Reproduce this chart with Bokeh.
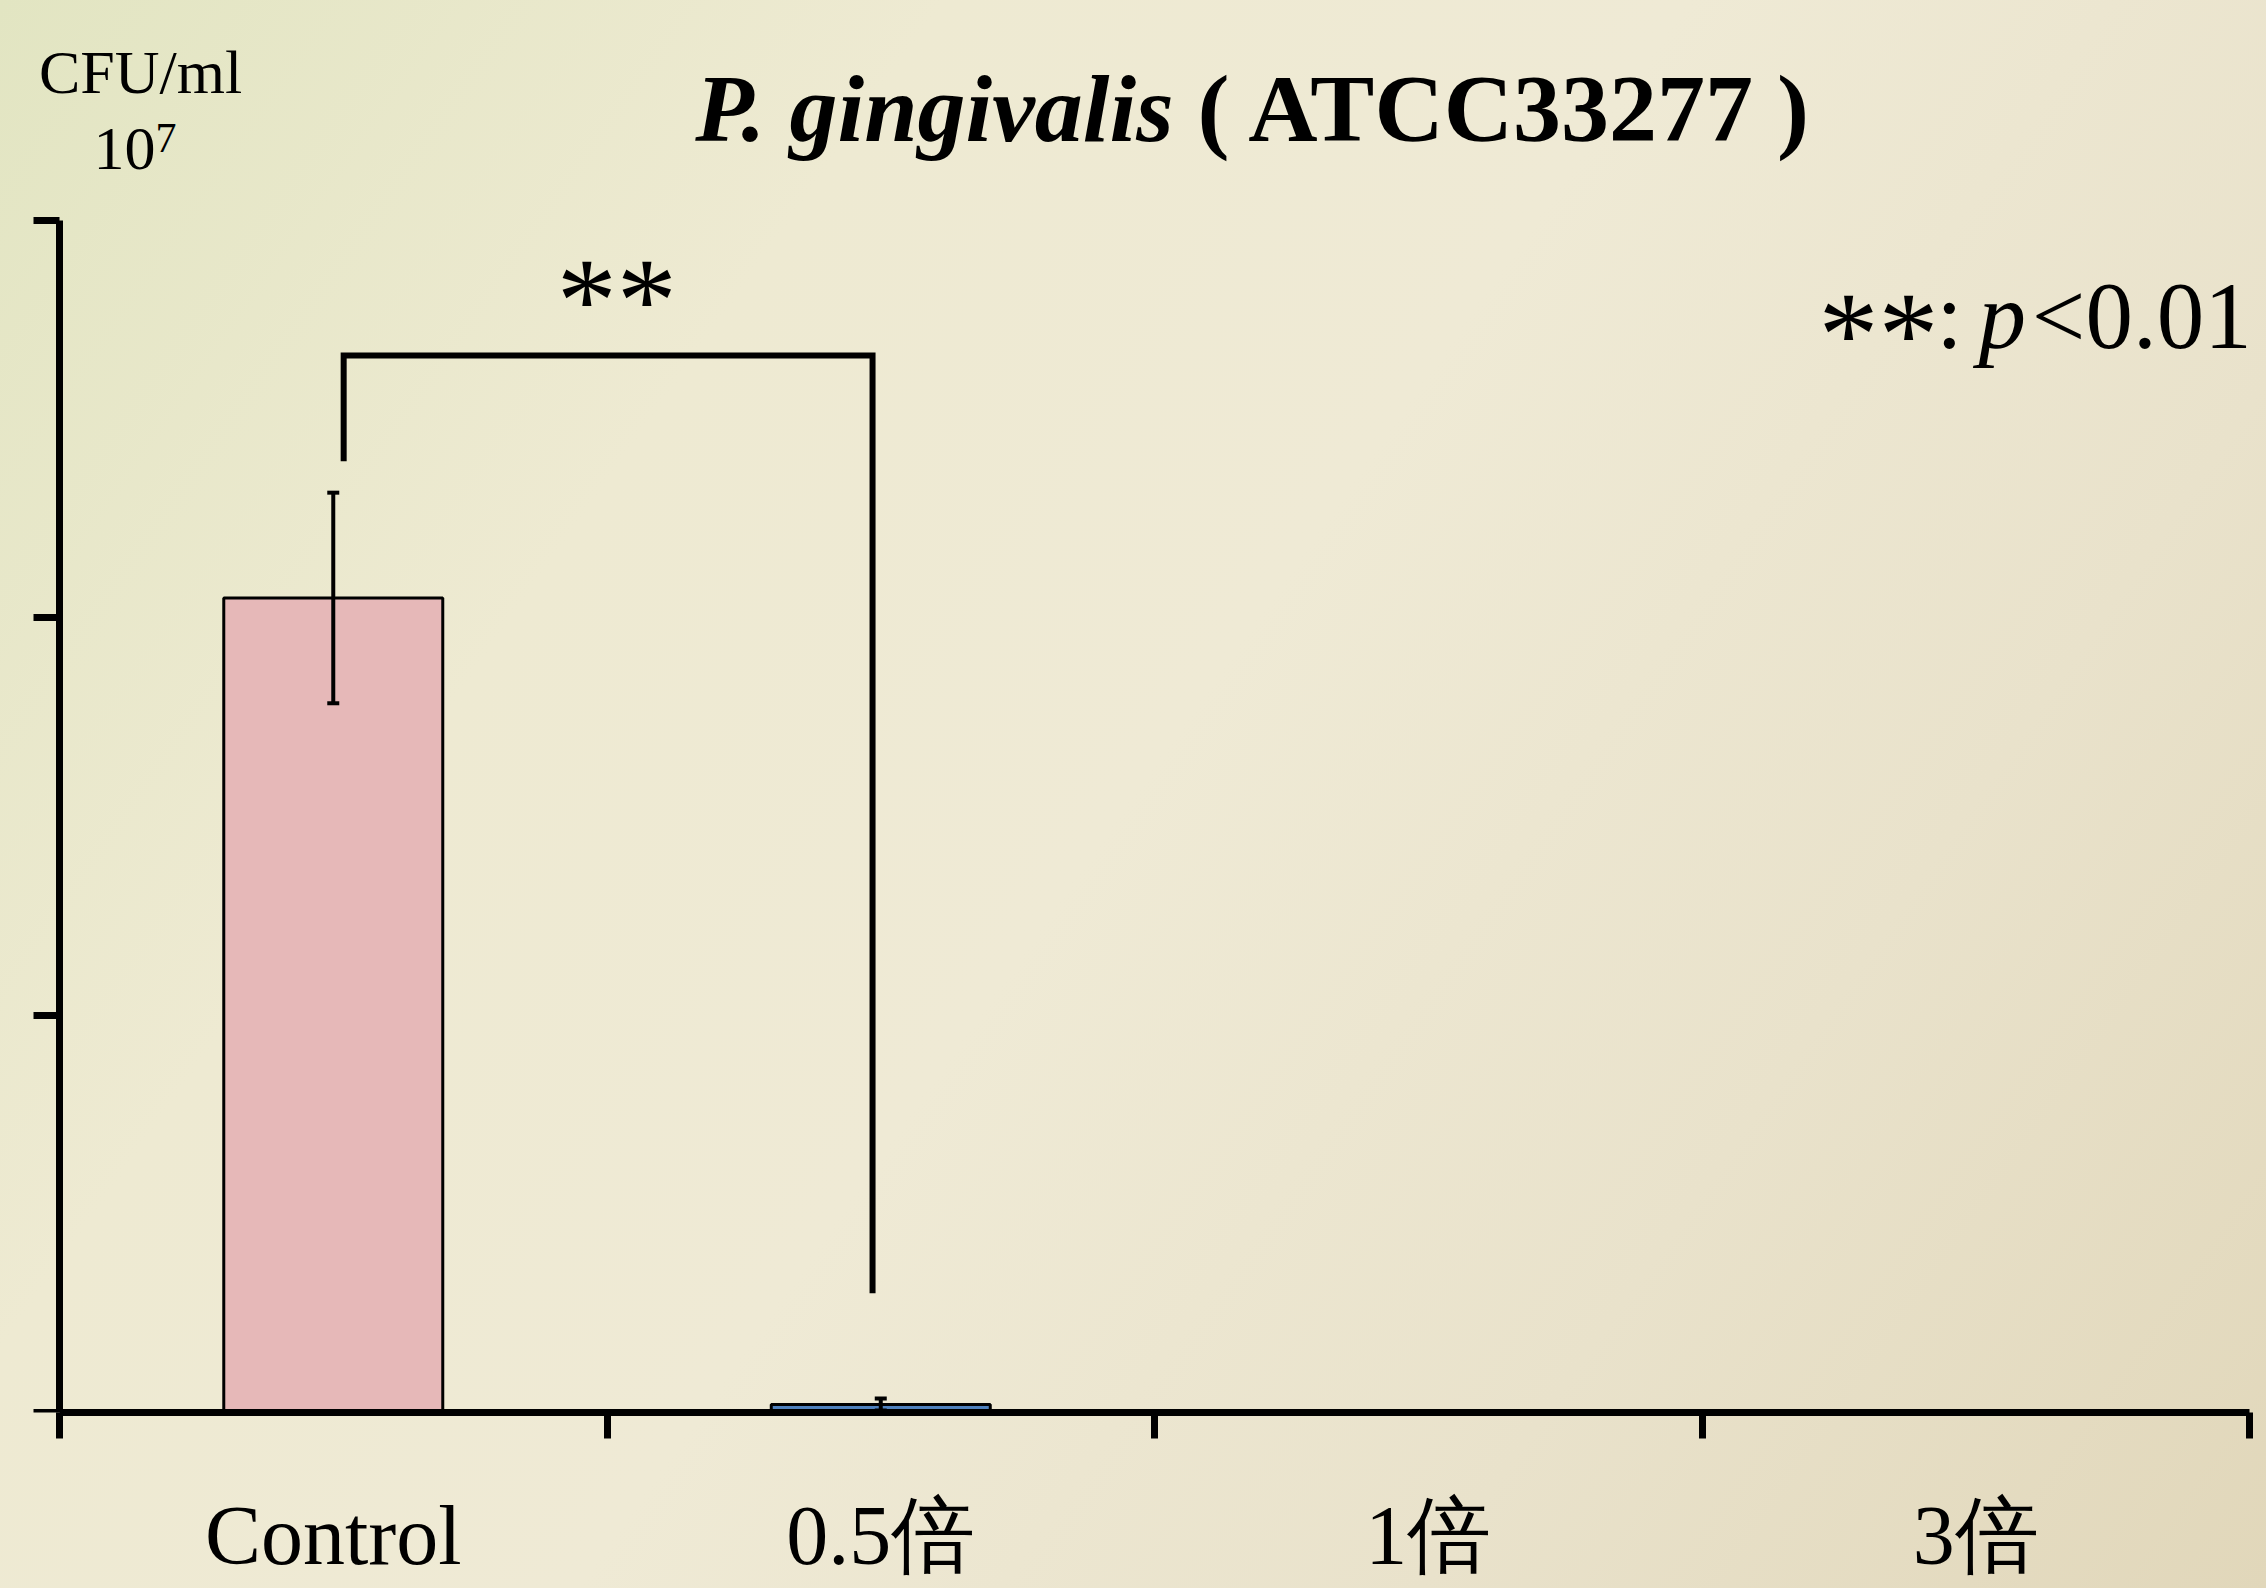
from bokeh.plotting import figure
from bokeh.models import Range1d, FixedTicker, Label, Whisker, ColumnDataSource, TeeHead
from bokeh.embed import file_html
from bokeh.resources import INLINE

# ---- data (CFU/ml, in units of 10^7) ----
categories = ["Control", "0.5倍", "1倍", "3倍"]
cat_pos = [0.5, 1.5, 2.5, 3.5]
cat_edges = [0, 1, 2, 3, 4]
cfu_mean = [2.05, 0.02, 0.0, 0.0]
cfu_err = [0.265, 0.015, 0.0, 0.0]
bar_colors = ["#E6B8B8", "#4F81BD", "#4F81BD", "#4F81BD"]
y_ticks = [0, 1, 2, 3]
# significance bracket Control vs 0.5倍
bracket_x = [0.519, 0.519, 1.485, 1.485]
bracket_y = [2.394, 2.66, 2.66, 0.30]

SERIF = "Liberation Serif"

p = figure(width=2266, height=1588, x_range=Range1d(-0.0530, 4.0), y_range=Range1d(0, 3.5537),
           output_backend="svg", toolbar_location=None,
           min_border_left=30, min_border_right=17, min_border_top=0, min_border_bottom=176)
p.grid.visible = False
p.outline_line_color = None
p.background_fill_color = None
p.border_fill_color = None
p.styles = {"background": "linear-gradient(125deg, #e2e5c2 0%, #eeead2 28%, #efead5 50%, #e9e2cb 75%, #e1d7ba 100%)"}

# x axis
xa = p.xaxis[0]
xa.bounds = (0, 4)
xa.ticker = FixedTicker(ticks=cat_pos, minor_ticks=cat_edges)
xa.major_label_overrides = {pos: lab for pos, lab in zip(cat_pos, categories)}
xa.major_tick_line_color = None
xa.major_tick_out = 26
xa.major_tick_in = 0
xa.minor_tick_line_color = "black"
xa.minor_tick_line_width = 7
xa.minor_tick_out = 26
xa.minor_tick_in = 0
xa.axis_line_width = 7
xa.axis_line_color = "black"
xa.major_label_text_font = SERIF
xa.major_label_text_font_size = "84px"
xa.major_label_text_color = "black"
xa.major_label_standoff = 50

# y axis (drawn at x = 0 inside the frame)
ya = p.yaxis[0]
ya.fixed_location = 0
ya.ticker = FixedTicker(ticks=y_ticks)
ya.bounds = (0, 3)
ya.major_tick_out = 26
ya.major_tick_in = 0
ya.major_tick_line_width = 7
ya.major_tick_line_color = "black"
ya.minor_tick_line_color = None
ya.axis_line_width = 7
ya.axis_line_color = "black"
ya.major_label_text_font_size = "0px"
ya.major_label_text_alpha = 0
ya.major_label_standoff = 0

# bars
p.vbar(x=cat_pos, top=cfu_mean, width=0.4, fill_color=bar_colors,
       line_color="black", line_width=3)

# error bars
ex, eu, el = [], [], []
for x, m, e in zip(cat_pos, cfu_mean, cfu_err):
    if e > 0:
        ex.append(x); eu.append(m + e); el.append(m - e)
src = ColumnDataSource(dict(x=ex, upper=eu, lower=el))
p.add_layout(Whisker(base="x", upper="upper", lower="lower", source=src, level="annotation",
                     line_width=4, line_color="black",
                     upper_head=TeeHead(size=12, line_width=4, line_color="black"),
                     lower_head=TeeHead(size=12, line_width=4, line_color="black")))

# significance bracket
p.line(bracket_x, bracket_y, line_width=6, line_color="black", line_join="miter")

def lab(text, x, y, size, align="left", style="normal"):
    p.add_layout(Label(x=x, y=y, text=text, text_font=SERIF, text_font_size=size,
                       text_font_style=style, text_align=align, text_baseline="alphabetic",
                       text_color="black"))

lab("**", 1.018, 2.798, "120px", align="center")

# unit label
lab("CFU/ml", 0.148, 3.373, "62px", align="center")
lab("10", 0.1753, 3.179, "62px", align="right")
lab("7", 0.1753, 3.208, "42px", align="left")

# title
lab("P. gingivalis", 2.0347, 3.281, "96px", align="right", style="bold italic")
lab("( ATCC33277 )", 2.0785, 3.281, "96px", align="left", style="bold")

# p-value legend
lab("**", 3.213, 2.713, "120px")
lab(":", 3.428, 2.7585, "95px")
lab("p", 3.505, 2.7585, "95px", style="italic")
lab("<0.01", 4.004, 2.7585, "95px", align="right")

open("out.html", "w").write(file_html(p, INLINE))
